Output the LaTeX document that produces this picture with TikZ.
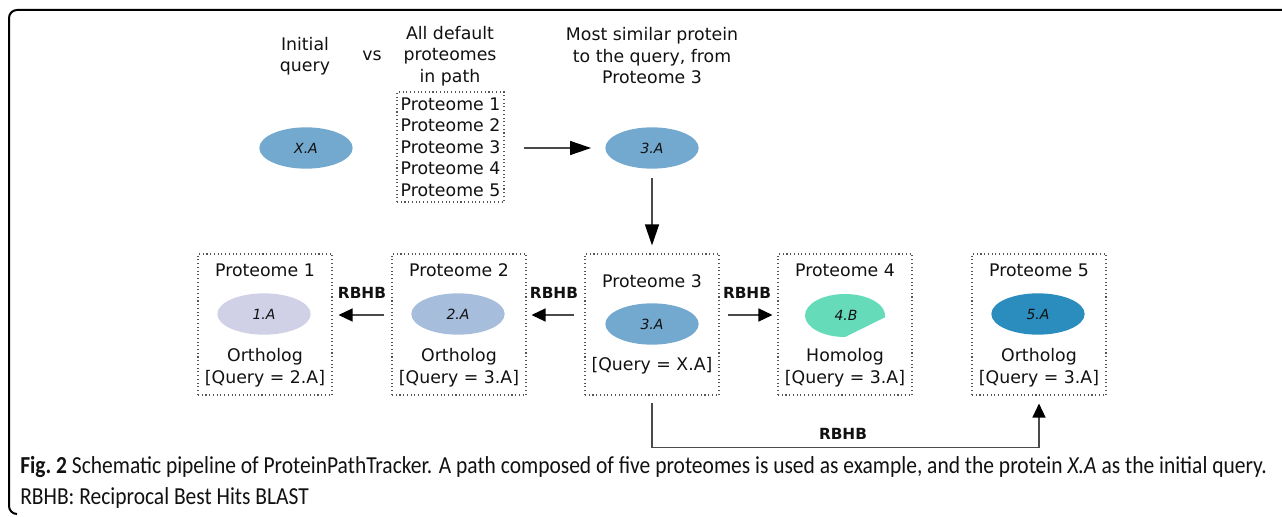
\documentclass[tikz,border=0pt]{standalone}
\usepackage{fontspec}
\setmainfont{DejaVu Sans}
\newfontfamily\capfont[FakeStretch=0.88]{Carlito}
\usetikzlibrary{arrows.meta,shapes.geometric}

\definecolor{pubuA}{HTML}{D0D1E6}
\definecolor{pubuB}{HTML}{A6BDDB}
\definecolor{pubuC}{HTML}{74A9CF}
\definecolor{pubuD}{HTML}{2B8CBE}
\definecolor{mint}{HTML}{66DBBA}
\definecolor{conn}{HTML}{4A4A4A}
\definecolor{boxline}{HTML}{555555}
\definecolor{ink}{HTML}{111111}

\newlength\capnat
\newcommand\capfirstline{{\bfseries Fig.~2} Schematic pipeline of ProteinPathTracker. A path composed of five proteomes is used as example, and the protein \textit{X.A} as the initial query.}

\tikzset{
  lbl/.style={font=\fontsize{13}{16.1}\selectfont, text=ink, inner sep=0pt, align=center},
  prot/.style={ellipse, minimum width=70pt, minimum height=31pt, inner sep=0pt,
               text=ink, font=\fontsize{10.5}{12}\selectfont\itshape},
  pbox/.style={draw=boxline, dotted, line width=0.8pt, minimum width=100.5pt,
               minimum height=105.75pt, inner sep=0pt},
  link/.style={draw=conn, line width=1pt, -{Triangle[length=10.5pt,width=9.75pt,color=black]}},
  biglink/.style={draw=conn, line width=1pt, -{Triangle[length=15.75pt,width=10.5pt,color=black]}},
  rb/.style={font=\fontsize{11.5}{14}\selectfont\bfseries, text=ink, inner sep=0pt},
}

\begin{document}
% caption size: fit the first line to the text block width
\settowidth\capnat{\capfont\fontsize{10}{12}\selectfont\capfirstline}%
\pgfmathsetmacro\capsize{10*935/\capnat}%
\begin{tikzpicture}[x=0.75pt,y=-0.75pt]
\useasboundingbox (0,0) rectangle (1282,517);

% open frame
\draw[line width=1.5pt, rounded corners=6pt] (1290,10) -- (9,10) -- (9,514) -- (17,514);

% header
\node[lbl] (init) at (305,56) {Initial\\query};
\node[lbl] (vs) at (372,56) {vs};
\node[lbl] (alldef) at (450,56) {All default\\proteomes\\in path};
\node[lbl] (most) at (652,56) {Most similar protein\\to the query, from\\Proteome 3};

\node[lbl, draw=boxline, dotted, line width=0.8pt, minimum width=80.25pt, minimum height=82.5pt]
  (plist) at (450.5,147) {Proteome 1\\Proteome 2\\Proteome 3\\Proteome 4\\Proteome 5};

\node[prot, fill=pubuC] (xa) at (306,148) {X.A};
\node[prot, fill=pubuC] (hit) at (652,148) {3.A};

% proteome boxes
\node[pbox] (b1) at (265,324.5) {};
\node[pbox] (b2) at (459,324.5) {};
\node[pbox] (b3) at (652,324.5) {};
\node[pbox] (b4) at (845,324.5) {};
\node[pbox] (b5) at (1039,324.5) {};

\node[lbl] (t1) at (265,270) {Proteome 1};
\node[prot, fill=pubuA] (e1) at (264,314) {1.A};
\node[lbl] (o1) at (265,367.5) {Ortholog\\{}[Query = 2.A]};

\node[lbl] (t2) at (459,270) {Proteome 2};
\node[prot, fill=pubuB] (e2) at (458,314) {2.A};
\node[lbl] (o2) at (459,367.5) {Ortholog\\{}[Query = 3.A]};

\node[lbl] (t3) at (652,281) {Proteome 3};
\node[prot, fill=pubuC] (e3) at (652,324) {3.A};
\node[lbl] (o3) at (652,366) {[Query = X.A]};

\node[lbl] (t4) at (845,270) {Proteome 4};
\fill[mint] (845,337) arc[start angle=90, end angle=365, x radius=40, y radius=21.5] -- cycle;
\node[prot] (e4) at (846,315.5) {4.B};
\node[lbl] (o4) at (845,367.5) {Homolog\\{}[Query = 3.A]};

\node[lbl] (t5) at (1039,270) {Proteome 5};
\node[prot, fill=pubuD] (e5) at (1038,314) {5.A};
\node[lbl] (o5) at (1039,367.5) {Ortholog\\{}[Query = 3.A]};

% connectors
\draw[biglink, shorten <=14.25pt, shorten >=10.5pt] (plist.east |- hit) -- (hit.west);
\draw[biglink, shorten <=6.75pt, shorten >=6pt] (hit.south) -- (b3.north);

\coordinate (r) at (0,315);
\draw[link, shorten <=5.25pt, shorten >=4.5pt] (b2.west |- r) -- (b1.east |- r);
\node[rb] (rb1) at (362,293) {RBHB};
\draw[link, shorten <=7.5pt, shorten >=3.75pt] (b3.west |- r) -- (b2.east |- r);
\node[rb] (rb2) at (554,293) {RBHB};
\draw[link, shorten <=6pt, shorten >=3.75pt] (b3.east |- r) -- (b4.west |- r);
\node[rb] (rb3) at (747,293) {RBHB};

\draw[link, shorten <=5.25pt, shorten >=6pt] (b3.south) -- ++(0,52) -| (b5.south);
\node[rb] (rb4) at (843,434) {RBHB};

% caption
\node[anchor=base west, inner sep=0pt, text=ink, font=\capfont\fontsize{\capsize}{18}\selectfont]
  (cap1) at (20,473) {\capfirstline};
\node[anchor=base west, inner sep=0pt, text=ink, font=\capfont\fontsize{\capsize}{18}\selectfont]
  (cap2) at (20,504) {RBHB: Reciprocal Best Hits BLAST};
\end{tikzpicture}
\end{document}
